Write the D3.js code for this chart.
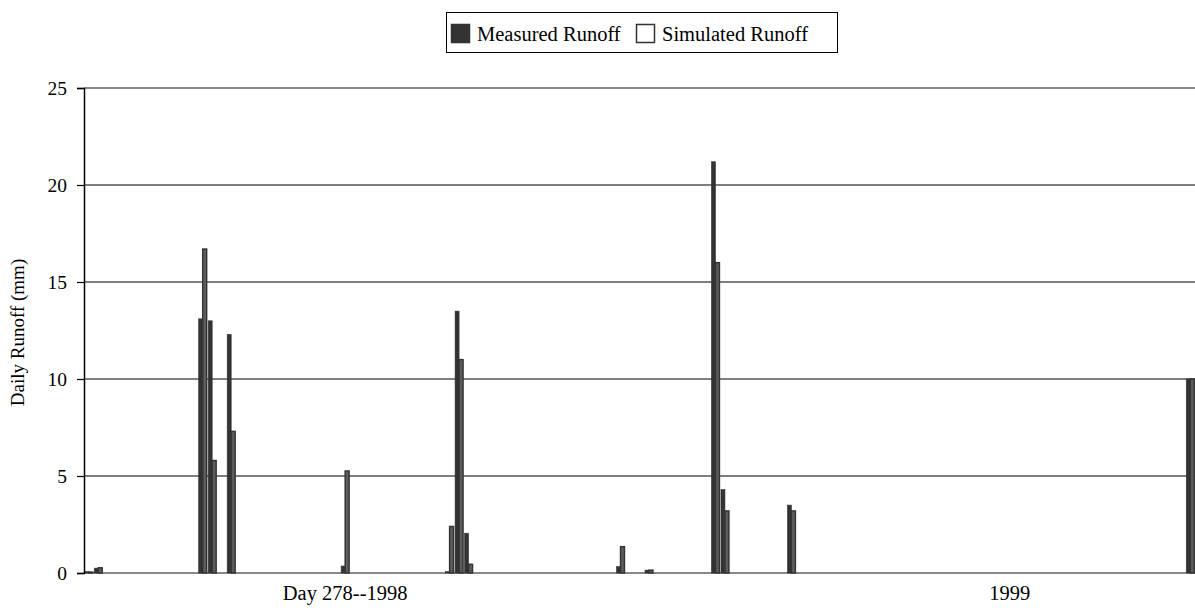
<!DOCTYPE html>
<html>
<head>
<meta charset="utf-8">
<script src="https://cdn.jsdelivr.net/npm/d3@7"></script>
<style>
  body { margin: 0; background: #fff; }
  text { font-family: "Liberation Serif", "Times New Roman", serif; }
</style>
</head>
<body>
<div id="chart-area"></div>
<script>
// run days: 278 (1998) ... continuing past 365 into 1999
let firstDay = 278;
let lastDay = 394;
// days with runoff (all other days are zero)
let eventDays = [278, 279, 290, 291, 293, 305, 316, 317, 318, 334, 337, 344, 345, 352, 394];
let measured  = [0.07, 0.25, 13.1, 13.0, 12.3, 0.36, 0.07, 13.5, 2.05, 0.33, 0.15, 21.2, 4.3, 3.5, 10.0];
let simulated = [0.05, 0.27, 16.7, 5.8, 7.3, 5.26, 2.4, 11.0, 0.45, 1.36, 0.15, 16.0, 3.2, 3.2, 10.0];
let yTicks = [0, 5, 10, 15, 20, 25];
let xLabelDays = [305, 375];
let xLabels = ["Day 278--1998", "1999"];
let seriesNames = ["Measured Runoff", "Simulated Runoff"];

let width = 1195, height = 614;
let plotLeft = 84, plotRight = 1195, plotTop = 88, plotBottom = 573;

let svg = d3.select("#chart-area").append("svg")
	.attr("width", width)
	.attr("height", height);

let days = d3.range(firstDay, lastDay + 1);

let x = d3.scaleBand()
	.domain(days)
	.range([plotLeft, plotRight])
	.paddingInner(0.158)
	.paddingOuter(0.079);

let x1 = d3.scaleBand()
	.domain(seriesNames)
	.range([0, x.bandwidth()]);

let y = d3.scaleLinear()
	.domain([0, 25])
	.range([plotBottom, plotTop]);

// gridlines
svg.selectAll("line.grid").data(yTicks)
	.enter().append("line")
	.attr("class", "grid")
	.attr("x1", plotLeft).attr("x2", plotRight)
	.attr("y1", d => y(d)).attr("y2", d => y(d))
	.attr("stroke", d => (d == 0 || d == 25) ? "#888" : "#000")
	.attr("stroke-width", d => (d == 0 || d == 25) ? 2 : 1.2);

let rows = eventDays.map((d, i) => {
	return {day: d, values: [
		{name: seriesNames[0], v: measured[i]},
		{name: seriesNames[1], v: simulated[i]}
	]};
});

let groups = svg.selectAll("g.day").data(rows)
	.enter().append("g")
	.attr("class", "day")
	.attr("transform", d => "translate(" + x(d.day) + ",0)");

// narrow hollow bars read almost solid in the original print
groups.selectAll("rect").data(d => d.values)
	.enter().append("rect")
	.attr("x", d => x1(d.name))
	.attr("y", d => y(d.v))
	.attr("width", x1.bandwidth())
	.attr("height", d => y(0) - y(d.v))
	.attr("fill", d => d.name == seriesNames[0] ? "#333" : "#5c5c5c")
	.attr("stroke", "#333")
	.attr("stroke-width", d => d.name == seriesNames[0] ? 0.6 : 1.4);

// y axis
let yAxis = d3.axisLeft(y)
	.tickValues(yTicks)
	.tickSize(7)
	.tickPadding(10)
	.tickFormat(d3.format("d"));

let gy = svg.append("g")
	.attr("transform", "translate(" + plotLeft + ",0)")
	.call(yAxis);
gy.select(".domain").attr("stroke", "#000").attr("stroke-width", 1.5);
gy.selectAll(".tick line").attr("stroke", "#000").attr("stroke-width", 1.2);
gy.selectAll("text")
	.attr("font-size", 19.5)
	.attr("font-family", "Liberation Serif")
	.attr("fill", "#000");

// x axis labels
let xAxis = d3.axisBottom(x)
	.tickValues(xLabelDays)
	.tickSize(0)
	.tickPadding(12)
	.tickFormat((d, i) => xLabels[i]);

let gx = svg.append("g")
	.attr("transform", "translate(0," + plotBottom + ")")
	.call(xAxis);
gx.select(".domain").remove();
gx.selectAll("text")
	.attr("font-size", 20.5)
	.attr("font-family", "Liberation Serif")
	.attr("fill", "#000");

// y label
svg.append("text")
	.attr("transform", "translate(24," + ((plotTop + plotBottom) / 2 + 2) + ") rotate(-90)")
	.attr("text-anchor", "middle")
	.attr("font-size", 19)
	.text("Daily Runoff (mm)");

// legend
let legend = svg.append("g");
legend.append("rect")
	.attr("x", 446.5).attr("y", 12.5)
	.attr("width", 391).attr("height", 40)
	.attr("fill", "#fff")
	.attr("stroke", "#000")
	.attr("stroke-width", 1);

let legX = [451, 636];
seriesNames.forEach((s, i) => {
	legend.append("rect")
		.attr("x", legX[i] + 0.5).attr("y", 24.5)
		.attr("width", 18).attr("height", 18)
		.attr("fill", i == 0 ? "#333" : "#fff")
		.attr("stroke", "#333")
		.attr("stroke-width", 1.5);
	legend.append("text")
		.attr("x", legX[i] + 26)
		.attr("y", 41)
		.attr("font-size", 20.5)
		.text(s);
});
</script>
</body>
</html>
